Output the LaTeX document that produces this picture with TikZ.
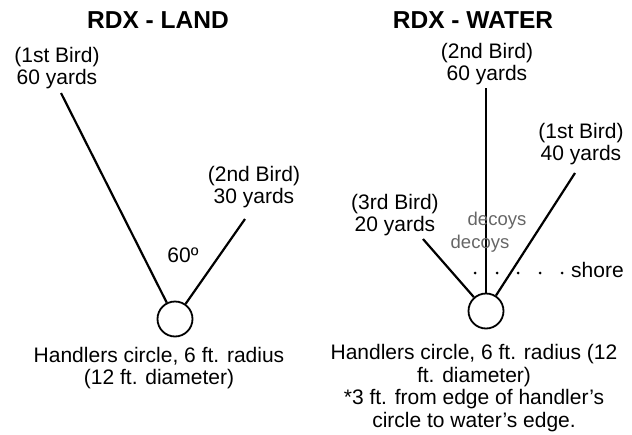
\documentclass[tikz,border=0pt]{standalone}
\usepackage{fontspec}
\setmainfont{Liberation Sans}

\begin{document}
\begin{tikzpicture}%
        [x=1pt, y=-1pt,
        title/.style={font=\bfseries\fontsize{24.5}{27}\selectfont, inner sep=0pt},
        label/.style={font=\fontsize{21}{22.5}\selectfont, align=center, inner sep=0pt},
        decoy/.style={font=\fontsize{18.5}{20}\selectfont, color=black!60, inner sep=0pt},
        line/.style={color=black, line width=2.2pt},
        handler/.style={circle, draw=black, line width=1.8pt, minimum size=35pt, inner sep=0pt},
        dot/.style={circle, fill=black, inner sep=0pt, minimum size=3pt}]
%
\useasboundingbox (0,0) rectangle (632,434);
%%
%% RDX - LAND
%%
\node[title] (landTitle) at (158, 20) {RDX - LAND};
\node[handler] (landCircle) at (175, 319) {};
\node[label] (landFirst) at (57, 68) {(1st Bird)\\60 yards};
\node[label] (landSecond) at (254, 187) {(2nd Bird)\\30 yards};
\node[label] (landAngle) at (183, 255) {60º};
\node[label] (landNote) at (159, 368) {Handlers circle, 6 ft. radius\\(12 ft. diameter)};
%%
\coordinate (landFirstEnd) at (61, 93);
\coordinate (landSecondEnd) at (245, 219);
\draw[line] (landFirstEnd) -- (landCircle);
\draw[line] (landSecondEnd) -- (landCircle);
%%
%% RDX - WATER
%%
\node[title] (waterTitle) at (473, 20) {RDX - WATER};
\node[handler] (waterCircle) at (486, 311) {};
\node[label] (waterSecond) at (487, 64) {(2nd Bird)\\60 yards};
\node[label] (waterFirst) at (581, 144) {(1st Bird)\\40 yards};
\node[label] (waterThird) at (395, 215) {(3rd Bird)\\20 yards};
\node[label] (waterNote) at (474, 388)
    {Handlers circle, 6 ft. radius (12\\ft. diameter)\\*3 ft. from edge of handler's\\circle to water's edge.};
%%
\coordinate (waterSecondEnd) at (486, 88);
\coordinate (waterFirstEnd) at (575, 173);
\coordinate (waterThirdEnd) at (423, 239);
\draw[line] (waterSecondEnd) -- (waterCircle);
\draw[line] (waterFirstEnd) -- (waterCircle);
\draw[line] (waterThirdEnd) -- (waterCircle);
%%
%% Decoys and shore line
%%
\node[decoy] (decoyA) at (497, 221) {decoys};
\node[decoy] (decoyB) at (480, 244) {decoys};
\foreach \i [count=\n] in {475, 497, 518, 540, 562}
    \node[dot] (shoreDot\n) at (\i, 273) {};
\node[label, anchor=west] (shore) at (571, 270) {shore};

\end{tikzpicture}
\end{document}
